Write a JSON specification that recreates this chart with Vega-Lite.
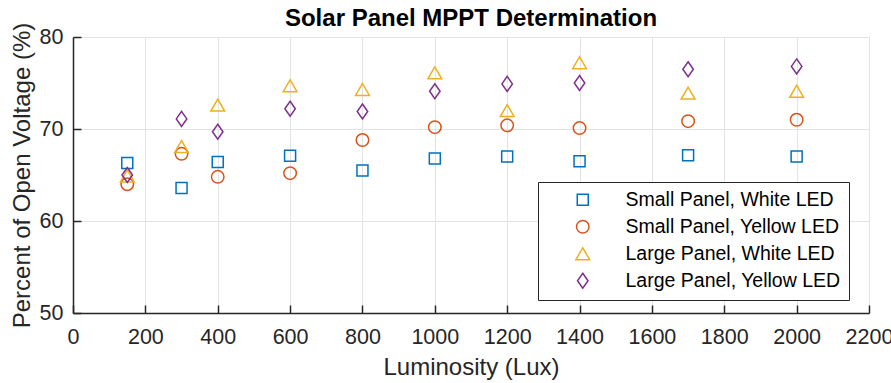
{
  "$schema": "https://vega.github.io/schema/vega-lite/v6.json",
  "width": 796,
  "height": 276,
  "autosize": {"type": "none"},
  "padding": {"left": 73, "top": 37, "right": 22, "bottom": 70},
  "background": "white",
  "title": {"text": "Solar Panel MPPT Determination", "fontSize": 24, "fontWeight": "bold", "font": "Liberation Sans", "color": "#000000", "offset": -9, "anchor": "middle"},
  "config": {
    "view": {"stroke": null},
    "font": "Liberation Sans",
    "legend": {"strokeWidth": 1},
    "axis": {"domainColor": "#262626", "tickColor": "#262626", "labelColor": "#262626", "titleColor": "#262626", "gridColor": "#e3e3e3", "labelFontSize": 21.5, "titleFontSize": 24, "titleFontWeight": "normal", "domainWidth": 1.5, "tickWidth": 1.5, "labelFont": "Liberation Sans", "titleFont": "Liberation Sans"}
  },
  "data": {"values": [
    {"lux": 150, "series": "Small Panel, White LED", "pct": 66.3},
    {"lux": 300, "series": "Small Panel, White LED", "pct": 63.6},
    {"lux": 400, "series": "Small Panel, White LED", "pct": 66.4},
    {"lux": 600, "series": "Small Panel, White LED", "pct": 67.1},
    {"lux": 800, "series": "Small Panel, White LED", "pct": 65.5},
    {"lux": 1000, "series": "Small Panel, White LED", "pct": 66.8},
    {"lux": 1200, "series": "Small Panel, White LED", "pct": 67.0},
    {"lux": 1400, "series": "Small Panel, White LED", "pct": 66.5},
    {"lux": 1700, "series": "Small Panel, White LED", "pct": 67.15},
    {"lux": 2000, "series": "Small Panel, White LED", "pct": 67.0},
    {"lux": 150, "series": "Small Panel, Yellow LED", "pct": 64.0},
    {"lux": 300, "series": "Small Panel, Yellow LED", "pct": 67.3},
    {"lux": 400, "series": "Small Panel, Yellow LED", "pct": 64.8},
    {"lux": 600, "series": "Small Panel, Yellow LED", "pct": 65.2},
    {"lux": 800, "series": "Small Panel, Yellow LED", "pct": 68.8},
    {"lux": 1000, "series": "Small Panel, Yellow LED", "pct": 70.2},
    {"lux": 1200, "series": "Small Panel, Yellow LED", "pct": 70.4},
    {"lux": 1400, "series": "Small Panel, Yellow LED", "pct": 70.1},
    {"lux": 1700, "series": "Small Panel, Yellow LED", "pct": 70.85},
    {"lux": 2000, "series": "Small Panel, Yellow LED", "pct": 71.0},
    {"lux": 150, "series": "Large Panel, White LED", "pct": 64.9},
    {"lux": 300, "series": "Large Panel, White LED", "pct": 68.1},
    {"lux": 400, "series": "Large Panel, White LED", "pct": 72.6},
    {"lux": 600, "series": "Large Panel, White LED", "pct": 74.7},
    {"lux": 800, "series": "Large Panel, White LED", "pct": 74.3},
    {"lux": 1000, "series": "Large Panel, White LED", "pct": 76.1},
    {"lux": 1200, "series": "Large Panel, White LED", "pct": 72.0},
    {"lux": 1400, "series": "Large Panel, White LED", "pct": 77.2},
    {"lux": 1700, "series": "Large Panel, White LED", "pct": 73.9},
    {"lux": 2000, "series": "Large Panel, White LED", "pct": 74.1},
    {"lux": 150, "series": "Large Panel, Yellow LED", "pct": 65.0},
    {"lux": 300, "series": "Large Panel, Yellow LED", "pct": 71.1},
    {"lux": 400, "series": "Large Panel, Yellow LED", "pct": 69.7},
    {"lux": 600, "series": "Large Panel, Yellow LED", "pct": 72.2},
    {"lux": 800, "series": "Large Panel, Yellow LED", "pct": 71.9},
    {"lux": 1000, "series": "Large Panel, Yellow LED", "pct": 74.1},
    {"lux": 1200, "series": "Large Panel, Yellow LED", "pct": 74.9},
    {"lux": 1400, "series": "Large Panel, Yellow LED", "pct": 75.0},
    {"lux": 1700, "series": "Large Panel, Yellow LED", "pct": 76.5},
    {"lux": 2000, "series": "Large Panel, Yellow LED", "pct": 76.8}
  ]},
  "mark": {"type": "point", "filled": false, "strokeWidth": 1.5, "opacity": 1},
  "encoding": {
    "x": {"field": "lux", "type": "quantitative", "title": "Luminosity (Lux)",
      "scale": {"domain": [0, 2200], "nice": false, "zero": false},
      "axis": {"values": [0,200,400,600,800,1000,1200,1400,1600,1800,2000,2200], "format": "d", "tickSize": -8, "labelPadding": 21, "titlePadding": 8, "labelFlush": false, "labelOverlap": false}},
    "y": {"field": "pct", "type": "quantitative", "title": "Percent of Open Voltage (%)",
      "scale": {"domain": [50, 80], "nice": false, "zero": false},
      "axis": {"values": [50,60,70,80], "format": "d", "tickSize": -8, "labelPadding": 18, "titlePadding": 5, "labelFlush": false}},
    "color": {"field": "series", "type": "nominal", "title": null,
      "scale": {"domain": ["Small Panel, White LED", "Small Panel, Yellow LED", "Large Panel, White LED", "Large Panel, Yellow LED"], "range": ["#0072BD", "#D95319", "#EDB120", "#7E2F8E"]},
      "legend": {"orient": "none", "legendX": 465, "legendY": 145, "fillColor": "white", "strokeColor": "#262626", "padding": 8, "labelFontSize": 19.5, "labelColor": "#000000", "labelFont": "Liberation Sans", "symbolOffset": 27, "labelOffset": 33, "rowPadding": 6, "symbolStrokeWidth": 1.5, "labelLimit": 400}},
    "shape": {"field": "series", "type": "nominal", "title": null,
      "scale": {"domain": ["Small Panel, White LED", "Small Panel, Yellow LED", "Large Panel, White LED", "Large Panel, Yellow LED"], "range": ["square", "circle", "triangle-up", "M0,-1L0.7,0L0,1L-0.7,0Z"]}},
    "size": {"field": "series", "type": "nominal", "title": null,
      "scale": {"domain": ["Small Panel, White LED", "Small Panel, Yellow LED", "Large Panel, White LED", "Large Panel, Yellow LED"], "range": [121, 225, 340, 400]}}
  }
}
